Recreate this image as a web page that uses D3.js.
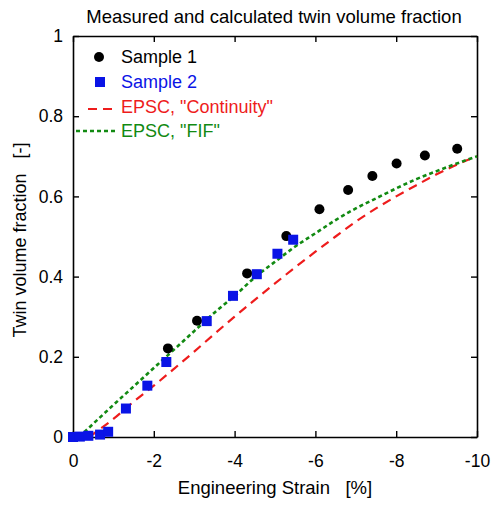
<!DOCTYPE html>
<html>
<head>
<meta charset="utf-8">
<script src="https://cdn.jsdelivr.net/npm/d3@7"></script>
<style>
  body { margin: 0; background: #fff; }
  text { font-family: "Liberation Sans", Arial, sans-serif; }
</style>
</head>
<body>
<div id="my_dataviz"></div>
<script>
// measured points
var sample1X = [-2.35, -3.07, -4.31, -5.28, -6.10, -6.81, -7.41, -8.01, -8.71, -9.51];
var sample1Y = [0.221, 0.290, 0.408, 0.501, 0.568, 0.616, 0.651, 0.682, 0.702, 0.719];

var sample2X = [0, -0.17, -0.38, -0.67, -0.87, -1.31, -1.84, -2.31, -3.31, -3.96, -4.55, -5.06, -5.45];
var sample2Y = [0, 0.001, 0.003, 0.006, 0.013, 0.071, 0.128, 0.187, 0.289, 0.352, 0.406, 0.457, 0.492];

// EPSC model curves
var contX = [-0.4, -0.7, -1.0, -1.5, -2.0, -2.5, -3.0, -3.5, -4.0, -4.5, -5.0, -5.5, -6.0, -6.5, -7.0, -7.5, -8.0, -8.5, -9.0, -9.5, -10];
var contY = [0, 0.022, 0.045, 0.088, 0.128, 0.170, 0.213, 0.257, 0.300, 0.342, 0.383, 0.423, 0.462, 0.500, 0.537, 0.570, 0.600, 0.628, 0.655, 0.679, 0.700];

var fifX = [-0.15, -0.5, -1.0, -1.5, -2.0, -2.5, -3.0, -3.5, -4.0, -4.5, -5.0, -5.5, -6.0, -6.5, -7.0, -7.5, -8.0, -8.5, -9.0, -9.5, -10];
var fifY = [0, 0.033, 0.080, 0.126, 0.172, 0.218, 0.264, 0.310, 0.352, 0.398, 0.437, 0.475, 0.508, 0.541, 0.570, 0.595, 0.620, 0.643, 0.663, 0.682, 0.700];

var xTicks = [0, -2, -4, -6, -8, -10];
var yTicks = [0, 0.2, 0.4, 0.6, 0.8, 1];

var legendLabels = ["Sample 1", "Sample 2", "EPSC, \"Continuity\"", "EPSC, \"FIF\""];

// dimensions
var margin = {top: 36, right: 14, bottom: 68, left: 73},
    width = 491 - margin.left - margin.right,
    height = 505 - margin.top - margin.bottom;

var root = d3.select("#my_dataviz")
  .append("svg")
    .attr("width", 491)
    .attr("height", 505);

var svg = root.append("g")
    .attr("transform", "translate(" + margin.left + "," + margin.top + ")");

var x = d3.scaleLinear().domain([0, -10]).range([0, width]);
var y = d3.scaleLinear().domain([0, 1]).range([height, 0]);

var fmtY = function(d) { return d === 0 || d === 1 ? String(d) : d3.format(".1f")(d); };

// axes with inward ticks
var gx = svg.append("g")
  .attr("transform", "translate(0," + height + ")")
  .call(d3.axisBottom(x).tickValues(xTicks).tickSizeInner(-6).tickSizeOuter(0).tickPadding(18));
var gy = svg.append("g")
  .call(d3.axisLeft(y).tickValues(yTicks).tickFormat(fmtY).tickSizeInner(-6).tickSizeOuter(0).tickPadding(10));
var gt = svg.append("g")
  .call(d3.axisTop(x).tickValues(xTicks).tickSizeInner(-6).tickSizeOuter(0).tickFormat(""));
var gr = svg.append("g")
  .attr("transform", "translate(" + width + ",0)")
  .call(d3.axisRight(y).tickValues(yTicks).tickSizeInner(-6).tickSizeOuter(0).tickFormat(""));

[gx, gy, gt, gr].forEach(function(g) {
  g.select(".domain").attr("stroke", "#000").attr("stroke-width", 1.6);
  g.selectAll(".tick line").attr("stroke", "#000").attr("stroke-width", 1.4);
  g.selectAll(".tick text").attr("fill", "#000").style("font-size", "17.5px")
    .style("font-family", "'Liberation Sans', Arial, sans-serif");
});
gx.selectAll(".tick text").text(function(d) { return d === 0 ? "0" : "-" + Math.abs(d); });

// curves
var line = d3.line().x(function(d) { return x(d[0]); }).y(function(d) { return y(d[1]); }).curve(d3.curveMonotoneX);

svg.append("path")
  .datum(d3.zip(contX, contY))
  .attr("fill", "none")
  .attr("stroke", "#ee1c1c")
  .attr("stroke-width", 2.2)
  .attr("stroke-dasharray", "9,6")
  .attr("d", line);

svg.append("path")
  .datum(d3.zip(fifX, fifY))
  .attr("fill", "none")
  .attr("stroke", "#128a12")
  .attr("stroke-width", 2.6)
  .attr("stroke-dasharray", "4,3")
  .attr("d", line);

// points
svg.selectAll("circle.s1")
  .data(d3.zip(sample1X, sample1Y))
  .enter().append("circle")
    .attr("class", "s1")
    .attr("cx", function(d) { return x(d[0]); })
    .attr("cy", function(d) { return y(d[1]); })
    .attr("r", 5)
    .attr("fill", "#000");

var sq = 10;
svg.selectAll("rect.s2")
  .data(d3.zip(sample2X, sample2Y))
  .enter().append("rect")
    .attr("class", "s2")
    .attr("x", function(d) { return x(d[0]) - sq / 2; })
    .attr("y", function(d) { return y(d[1]) - sq / 2; })
    .attr("width", sq)
    .attr("height", sq)
    .attr("fill", "#0a14e6");

// legend
var legColors = ["#000", "#0a14e6", "#ee1c1c", "#128a12"];
var legY = [57, 82, 107, 131];
var leg = root.append("g");
leg.append("circle").attr("cx", 99).attr("cy", legY[0]).attr("r", 5).attr("fill", legColors[0]);
leg.append("rect").attr("x", 95).attr("y", legY[1] - 5).attr("width", 10).attr("height", 10).attr("fill", legColors[1]);
leg.append("line").attr("x1", 88).attr("x2", 116).attr("y1", legY[2] + 2).attr("y2", legY[2] + 2)
  .attr("stroke", legColors[2]).attr("stroke-width", 2.2).attr("stroke-dasharray", "9,6");
leg.append("line").attr("x1", 76).attr("x2", 116).attr("y1", legY[3]).attr("y2", legY[3])
  .attr("stroke", legColors[3]).attr("stroke-width", 2.6).attr("stroke-dasharray", "4,3");
leg.selectAll("text.leg")
  .data(legendLabels)
  .enter().append("text")
    .attr("class", "leg")
    .attr("x", 121)
    .attr("y", function(d, i) { return legY[i]; })
    .attr("dy", "0.36em")
    .attr("fill", function(d, i) { return legColors[i]; })
    .style("font-size", "18px")
    .text(function(d) { return d; });

// titles
root.append("text")
  .attr("x", 274).attr("y", 23)
  .attr("text-anchor", "middle")
  .style("font-size", "18.5px")
  .text("Measured and calculated twin volume fraction");

root.append("text")
  .attr("x", 275).attr("y", 494)
  .attr("text-anchor", "middle")
  .style("font-size", "18.5px")
  .style("white-space", "pre")
  .text("Engineering Strain   [%]");

root.append("text")
  .attr("transform", "translate(26,240) rotate(-90)")
  .attr("text-anchor", "middle")
  .style("font-size", "18px")
  .style("white-space", "pre")
  .text("Twin volume fraction   [-]");
</script>
</body>
</html>
